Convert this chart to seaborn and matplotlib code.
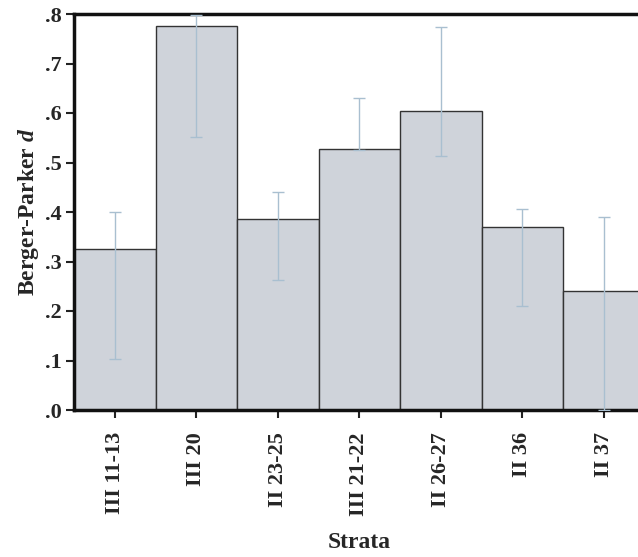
import matplotlib
matplotlib.use("Agg")
import matplotlib.pyplot as plt
import seaborn as sns
import pandas as pd
import numpy as np

strata = ["III 11-13", "III 20", "II 23-25", "III 21-22", "II 26-27", "II 36", "II 37"]
d_values = [0.325, 0.776, 0.385, 0.527, 0.605, 0.370, 0.240]
ci_low = [0.103, 0.552, 0.262, 0.525, 0.514, 0.211, 0.0]
ci_high = [0.400, 0.797, 0.440, 0.630, 0.773, 0.406, 0.390]
y_ticks = [0.0, 0.1, 0.2, 0.3, 0.4, 0.5, 0.6, 0.7, 0.8]
y_tick_labels = [".0", ".1", ".2", ".3", ".4", ".5", ".6", ".7", ".8"]

sns.set_style("white")
plt.rcParams["font.family"] = ["Liberation Serif", "DejaVu Serif"]
plt.rcParams["font.weight"] = "bold"
plt.rcParams["mathtext.fontset"] = "custom"
plt.rcParams["mathtext.it"] = "Liberation Serif:italic"
plt.rcParams["mathtext.rm"] = "Liberation Serif"

df = pd.DataFrame({"Strata": strata, "d": d_values})

fig = plt.figure(figsize=(6.38, 5.57), dpi=100)
ax = fig.add_axes([74 / 638, 1 - 410 / 557, 570.5 / 638, (410 - 14) / 557])

sns.barplot(data=df, x="Strata", y="d", color="#cfd3da", saturation=1,
            edgecolor="#333333", linewidth=1.0, width=1.0, errorbar=None, ax=ax)

vals = np.array(d_values)
yerr = np.vstack([vals - np.array(ci_low), np.array(ci_high) - vals])
ax.errorbar(np.arange(len(strata)), vals, yerr=yerr, fmt="none",
            ecolor="#a9bfd0", elinewidth=1.0, capsize=4.5, capthick=1.0, zorder=3)

ax.set_xlim(-0.5, len(strata) - 0.5)
ax.set_ylim(0, 0.8)
ax.set_yticks(y_ticks)
ax.set_yticklabels(y_tick_labels, fontsize=16, fontweight="bold")
ax.set_xticks(range(len(strata)))
ax.set_xticklabels(strata, rotation=90, fontsize=16, fontweight="bold")
ax.tick_params(axis="both", direction="out", length=6, width=1.5, color="#222222",
               left=True, bottom=True, pad=3)
ax.tick_params(axis="x", pad=10)

for side in ["left", "bottom", "top"]:
    ax.spines[side].set_linewidth(2.5)
    ax.spines[side].set_color("#111111")
ax.spines["right"].set_visible(False)

ax.set_xlabel("Strata", fontsize=17, fontweight="bold", labelpad=12)
ax.set_ylabel(r"Berger-Parker $\it{d}$", fontsize=17, fontweight="bold", labelpad=3)

fig.savefig("out.png", dpi=100)
